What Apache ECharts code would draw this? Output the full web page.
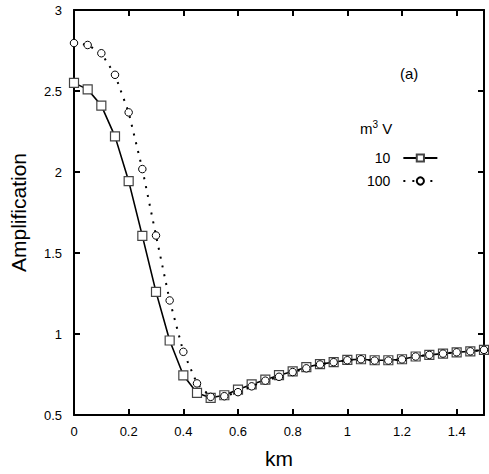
<!DOCTYPE html>
<html>
<head>
<meta charset="utf-8">
<script src="https://cdn.jsdelivr.net/npm/echarts@6/dist/echarts.min.js"></script>
<style>
  html, body { margin: 0; padding: 0; background: #fff; }
  #main { width: 489px; height: 474px; }
</style>
</head>
<body>
<div id="main"></div>
<script>
// km values (step 0.05)
var km = [0, 0.05, 0.1, 0.15, 0.2, 0.25, 0.3, 0.35, 0.4, 0.45, 0.5, 0.55, 0.6, 0.65, 0.7, 0.75,
  0.8, 0.85, 0.9, 0.95, 1.0, 1.05, 1.1, 1.15, 1.2, 1.25, 1.3, 1.35, 1.4, 1.45, 1.5];
// amplification, 10 m3 V
var amp10 = [2.55, 2.51, 2.41, 2.22, 1.944, 1.606, 1.26, 0.96, 0.745, 0.636, 0.606, 0.622, 0.657, 0.689, 0.718, 0.746,
  0.769, 0.795, 0.814, 0.826, 0.840, 0.844, 0.838, 0.838, 0.844, 0.861, 0.871, 0.879, 0.887, 0.893, 0.902];
// amplification, 100 m3 V
var amp100 = [2.796, 2.784, 2.733, 2.60, 2.368, 2.018, 1.608, 1.207, 0.890, 0.695, 0.612, 0.616, 0.641, 0.677, 0.712, 0.736,
  0.765, 0.788, 0.812, 0.826, 0.838, 0.844, 0.836, 0.836, 0.843, 0.861, 0.871, 0.879, 0.887, 0.893, 0.902];
var seriesNames = ['10', '100'];

var chart = echarts.init(document.getElementById('main'), null, { renderer: 'svg' });
var font = 'Liberation Sans';

function pairs(ys) {
  return km.map(function (x, i) { return [x, ys[i]]; });
}

// frame axis: line + inward ticks
function frameAxis(extra) {
  return Object.assign({
    type: 'value',
    axisLine: { show: true, onZero: false, lineStyle: { color: '#000', width: 2 } },
    axisTick: { show: true, inside: true, length: 6, lineStyle: { color: '#000', width: 2 } },
    splitLine: { show: false }
  }, extra);
}

var option = {
  backgroundColor: '#fff',
  animation: false,
  grid: { left: 73, right: 5, top: 10, bottom: 54 },
  xAxis: [
    frameAxis({
      min: 0, max: 1.5, interval: 0.2, position: 'bottom',
      name: 'km', nameLocation: 'middle', nameGap: 33,
      nameTextStyle: { fontFamily: font, fontSize: 21, color: '#000' },
      axisLabel: { fontFamily: font, fontSize: 13, color: '#000', margin: 10, showMaxLabel: false }
    }),
    frameAxis({
      min: 0, max: 1.5, interval: 0.2, position: 'top',
      axisLabel: { show: false }
    })
  ],
  yAxis: [
    frameAxis({
      min: 0.5, max: 3, interval: 0.5, position: 'left',
      name: 'Amplification', nameLocation: 'middle', nameGap: 45,
      nameTextStyle: { fontFamily: font, fontSize: 21, color: '#000' },
      axisLabel: { fontFamily: font, fontSize: 13, color: '#000', margin: 12 }
    }),
    frameAxis({
      min: 0.5, max: 3, interval: 0.5, position: 'right',
      axisLabel: { show: false }
    })
  ],
  legend: {
    orient: 'vertical',
    left: 362, top: 146,
    align: 'right',
    itemWidth: 34, itemHeight: 9, itemGap: 9,
    textStyle: { fontFamily: font, fontSize: 14, color: '#000', padding: [0, 8, 0, 0] },
    data: seriesNames
  },
  graphic: [
    {
      type: 'text', left: 400, top: 66,
      style: { text: '(a)', font: '15px "Liberation Sans"', fill: '#000' }
    },
    {
      type: 'text', left: 360, top: 119,
      style: {
        text: 'm{sup|3} V',
        font: '15px "Liberation Sans"', fill: '#000',
        rich: { sup: { fontSize: 10, fontFamily: font, verticalAlign: 'top', padding: [0, 0, 8, 0] } }
      }
    }
  ],
  series: [
    {
      name: seriesNames[0], type: 'line', data: pairs(amp10),
      symbol: 'rect', symbolSize: 9, showAllSymbol: true,
      lineStyle: { color: '#000', width: 1.6 },
      itemStyle: { color: '#fff', borderColor: '#444', borderWidth: 1.2 },
      z: 2
    },
    {
      name: seriesNames[1], type: 'line', data: pairs(amp100),
      symbol: 'circle', symbolSize: 7.5, showAllSymbol: true,
      lineStyle: { color: '#000', width: 2, type: [2, 7] },
      itemStyle: { color: '#fff', borderColor: '#000', borderWidth: 1 },
      z: 3
    }
  ]
};
chart.setOption(option);
</script>
</body>
</html>
